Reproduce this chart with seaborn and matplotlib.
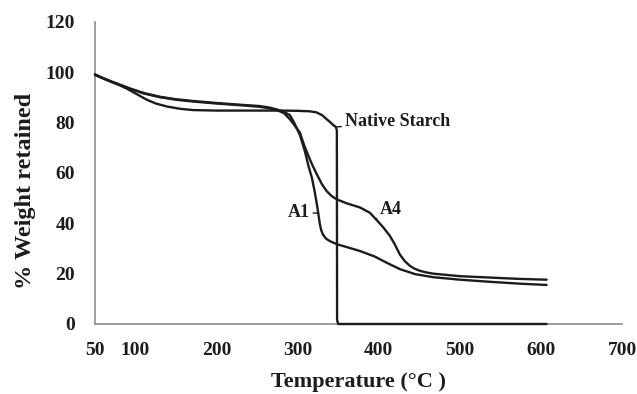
import matplotlib
matplotlib.use("Agg")
import matplotlib.pyplot as plt
import seaborn as sns
import pandas as pd

# Thermogravimetric curves: temperature (°C) vs. % weight retained
native_temp = [50, 60, 70, 80, 90, 100, 114, 125, 139, 155, 171, 200, 240, 280,
               300, 315, 323, 330, 336, 340, 344, 347, 348.3, 348.6, 350, 400,
               500, 607]
native_wt = [99.0, 97.6, 96.2, 94.9, 93.4, 91.6, 89.1, 87.6, 86.4, 85.5, 85.0,
             84.8, 84.8, 84.8, 84.7, 84.5, 84.1, 83.0, 81.3, 80.2, 79.0, 78.3,
             77.0, 1.5, 0.0, 0.0, 0.0, 0.0]

a1_temp = [50, 60, 70, 80, 93, 110, 130, 150, 171, 200, 230, 253, 265, 275,
           283, 290.4, 296, 302.8, 309, 313.5, 317.6, 321, 323.7, 325.6, 327.4,
           329, 331, 335, 339.8, 348.4, 360, 376.8, 395, 410, 426, 445, 467,
           500, 540, 575, 607]
a1_wt = [99.2, 97.7, 96.4, 95.2, 93.6, 91.8, 90.3, 89.3, 88.6, 87.8, 87.1,
         86.6, 86.0, 85.2, 84.3, 83.0, 79.8, 75.0, 68.5, 62.5, 58.0, 52.5,
         47.5, 43.5, 39.6, 37.3, 35.6, 33.9, 32.9, 31.7, 30.6, 29.0, 26.8,
         24.3, 21.8, 19.8, 18.6, 17.6, 16.7, 16.0, 15.5]

a4_temp = [50, 60, 70, 80, 93, 110, 130, 150, 171, 200, 230, 253, 265, 275,
           283, 290, 296, 302.8, 308, 312.6, 317.6, 323.7, 330, 336, 342,
           348.4, 360, 376.8, 389, 397.7, 405, 413.7, 420, 426, 432, 438, 444,
           451, 460, 467, 500, 540, 575, 607]
a4_wt = [99.0, 97.6, 96.3, 95.1, 93.5, 91.6, 90.1, 89.1, 88.4, 87.6, 86.9,
         86.3, 85.7, 84.9, 83.8, 81.5, 79.0, 76.0, 71.0, 67.3, 63.5, 59.4,
         55.5, 52.7, 50.8, 49.5, 48.0, 46.3, 44.2, 41.2, 38.6, 35.0, 31.5,
         27.6, 25.0, 23.2, 22.0, 21.1, 20.4, 20.0, 19.0, 18.4, 17.9, 17.6]

x_ticks = [50, 100, 200, 300, 400, 500, 600, 700]
y_ticks = [0, 20, 40, 60, 80, 100, 120]

sns.set_theme(style="white")
plt.rcParams['font.family'] = ['Liberation Serif', 'DejaVu Serif']
plt.rcParams['font.weight'] = 'bold'

ink = '#1c1c1c'
axis_grey = '#8c8c8c'

fig, ax = plt.subplots(figsize=(6.37, 3.94), dpi=100)
fig.subplots_adjust(left=0.1491, right=0.9765, bottom=0.1777, top=0.9442)

for temps, wts in [(native_temp, native_wt), (a1_temp, a1_wt), (a4_temp, a4_wt)]:
    df = pd.DataFrame({'Temperature': temps, 'Weight': wts})
    sns.lineplot(data=df, x='Temperature', y='Weight', ax=ax, color=ink,
                 linewidth=1.7, sort=False, estimator=None, legend=False,
                 clip_on=False, zorder=3)

ax.set_xlim(50, 700)
ax.set_ylim(0, 120)
ax.set_xticks(x_ticks)
ax.set_yticks(y_ticks)
ax.set_xticklabels([str(v) for v in x_ticks])
ax.set_yticklabels([str(v) for v in y_ticks])
ax.tick_params(axis='both', length=0, labelsize=14, colors=ink)
ax.tick_params(axis='x', pad=13)
ax.tick_params(axis='y', pad=14.5)
for lbl in ax.get_xticklabels() + ax.get_yticklabels():
    lbl.set_fontweight('bold')

ax.grid(False)
for side in ('top', 'right'):
    ax.spines[side].set_visible(False)
for side in ('left', 'bottom'):
    ax.spines[side].set_color(axis_grey)
    ax.spines[side].set_linewidth(1.2)

ax.set_xlabel('Temperature (°C )', fontsize=16, fontweight='bold', color=ink)
ax.xaxis.set_label_coords(0.5, -0.158)
ax.set_ylabel('% Weight retained', fontsize=17.5, fontweight='bold', color=ink)
ax.yaxis.set_label_coords(-0.112, 0.44)

leader = dict(arrowstyle='-', color=ink, lw=1.0, shrinkA=0, shrinkB=0)
ax.annotate('Native Starch', xy=(348.3, 78.3), xytext=(358, 80.4),
            ha='left', va='center', fontsize=13, fontweight='bold',
            color=ink, arrowprops=leader)
ax.annotate('A4', xy=(396, 41.6), xytext=(401.5, 45.6),
            ha='left', va='center', fontsize=13, fontweight='bold',
            color=ink, arrowprops=leader)
ax.annotate('A1', xy=(325.6, 44.0), xytext=(315, 44.4),
            ha='right', va='center', fontsize=13, fontweight='bold',
            color=ink, arrowprops=leader)

fig.savefig('out.png', dpi=100)
